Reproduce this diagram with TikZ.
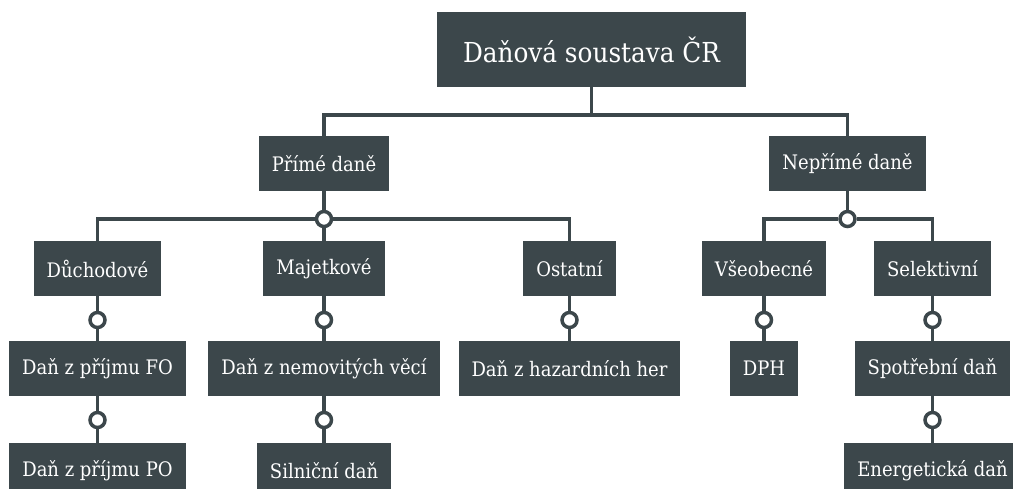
\documentclass[tikz,border=0pt]{standalone}
\usepackage{fontspec}
\setmainfont{DejaVu Serif Condensed}
\usepackage{xcolor}
\definecolor{slate}{HTML}{3C474B}

\begin{document}
\begin{tikzpicture}[x=1pt, y=-1pt,
      every node/.style={fill=slate, text=white, inner xsep=13pt, minimum height=55pt, font=\fontsize{20}{24}\selectfont},
      joint/.style={circle, draw=slate, fill=white, line width=3.5pt, minimum size=15pt, inner sep=0pt},
      link/.style={draw=slate, line width=3.5pt}
    ]
    \clip (0,0) rectangle (1013,489);
    \node[minimum width=309pt, minimum height=75pt, font=\fontsize{27.5}{32}\selectfont] (root) at (591.5,49.5) {Daňová soustava ČR};
    \node (prime) at (324,163.5) {Přímé daně};
    \node (neprime) at (847.5,163.5) {Nepřímé daně};
    \node (duch) at (97.5,268.5) {Důchodové};
    \node (majet) at (324,268.5) {Majetkové};
    \node (ostat) at (569.5,268.5) {Ostatní};
    \node (vseob) at (764,268.5) {Všeobecné};
    \node (selekt) at (932.5,268.5) {Selektivní};
    \node (fo) at (97.5,368.5) {Daň z příjmu FO};
    \node (nemov) at (324,368.5) {Daň z nemovitých věcí};
    \node (hazard) at (569.5,368.5) {Daň z hazardních her};
    \node (dph) at (764,368.5) {DPH};
    \node (spotr) at (932.5,368.5) {Spotřební daň};
    \node (po) at (97.5,470.5) {Daň z příjmu PO};
    \node (silni) at (324,470.5) {Silniční daň};
    \node (energ) at (932.5,470.5) {Energetická daň};

    % junctions
    \coordinate (top) at (591.5,115);
    \node[joint] (jp) at (324,219) {};
    \node[joint] (jn) at (847.5,219) {};
    \node[joint] (jduch) at (97.5,320) {};
    \node[joint] (jmajet) at (324,320) {};
    \node[joint] (jostat) at (569.5,320) {};
    \node[joint] (jvseob) at (764,320) {};
    \node[joint] (jselekt) at (932.5,320) {};
    \node[joint] (jfo) at (97.5,420) {};
    \node[joint] (jnemov) at (324,420) {};
    \node[joint] (jspotr) at (932.5,420) {};

    \draw[link] (root) -- (top);
    \draw[link] (prime) |- (top) -| (neprime);
    \draw[link] (prime) -- (jp) -- (majet);
    \draw[link] (duch) |- (jp) -| (ostat);
    \draw[link] (neprime) -- (jn);
    \draw[link] (vseob) |- (jn) -| (selekt);
    \draw[link] (duch) -- (jduch) -- (fo);
    \draw[link] (majet) -- (jmajet) -- (nemov);
    \draw[link] (ostat) -- (jostat) -- (hazard);
    \draw[link] (vseob) -- (jvseob) -- (dph);
    \draw[link] (selekt) -- (jselekt) -- (spotr);
    \draw[link] (fo) -- (jfo) -- (po);
    \draw[link] (nemov) -- (jnemov) -- (silni);
    \draw[link] (spotr) -- (jspotr) -- (energ);
\end{tikzpicture}
\end{document}
